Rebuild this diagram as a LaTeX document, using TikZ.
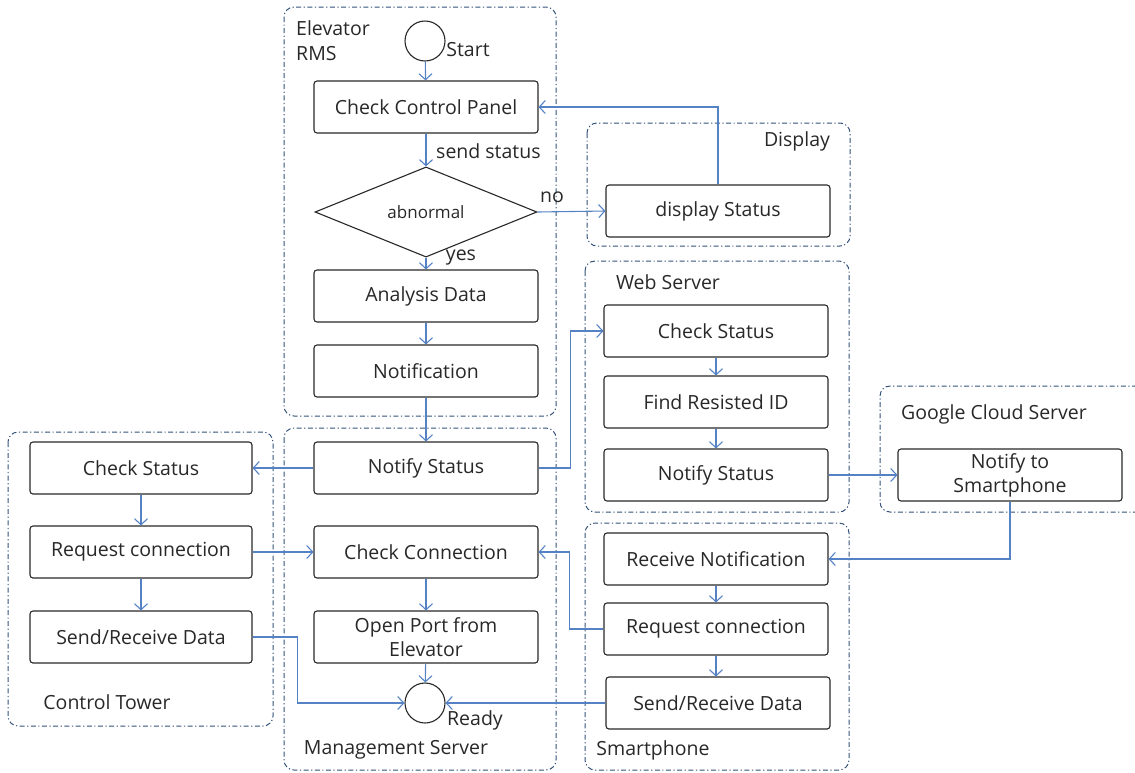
\documentclass[tikz,border=0pt]{standalone}
\usepackage{fontspec}
\setmainfont{Open Sans}
\usetikzlibrary{arrows.meta,shapes.geometric}
\definecolor{flow}{RGB}{84,130,196}
\definecolor{lanec}{RGB}{52,82,122}
\definecolor{ink}{RGB}{40,40,40}
\tikzset{
  box/.style={draw=ink, line width=1.1pt, rounded corners=3pt, fill=white,
    minimum width=224pt, minimum height=52pt, inner sep=2pt, align=center,
    font=\fontsize{19.5}{24}\selectfont, text=ink},
  term/.style={draw=ink, line width=1.1pt, circle, minimum size=40pt, inner sep=0pt},
  lbl/.style={font=\fontsize{19.5}{24}\selectfont, text=ink, inner sep=0pt},
  lane/.style={draw=lanec, line width=1pt, rounded corners=10pt,
    dash pattern=on 5pt off 2.5pt on 1.2pt off 2.5pt},
  arr/.style={draw=flow, line width=1.1pt, -{Straight Barb[length=6pt,width=13pt]}},
}
\begin{document}
\begin{tikzpicture}[x=1pt,y=-1pt]
\useasboundingbox (0,0) rectangle (1135,772);

% swimlanes
\draw[lane] (284,7) rectangle (556,416);
\draw[lane] (587,123) rectangle (850,246);
\draw[lane] (585,261) rectangle (849,512);
\draw[lane] (1137,386) -- (880,386) -- (880,512) -- (1137,512);
\draw[lane] (8,432) rectangle (273,726);
\draw[lane] (284,428) rectangle (556,770);
\draw[lane] (585,523) rectangle (849,770);

% lane titles
\node[lbl, anchor=north west, align=left] (tRMS) at (296,20) {Elevator\\[1pt]RMS};
\node[lbl] (tDisp) at (797,141) {Display};
\node[lbl] (tWeb) at (668,282) {Web Server};
\node[lbl] (tGoogle) at (994,414) {Google Cloud Server};
\node[lbl] (tCT) at (107,702) {Control Tower};
\node[lbl] (tMS) at (396,750) {Management Server};
\node[lbl] (tSP) at (653,750) {Smartphone};

% Elevator RMS
\node[term] (start) at (425,41) {};
\node[lbl] (startL) at (468,50) {Start};
\node[box] (ccp) at (426,107) {Check Control Panel};
\node[draw=ink, line width=1.1pt, diamond, fill=white, minimum width=222pt,
      minimum height=72pt, inner sep=0pt, font=\fontsize{17}{20}\selectfont, text=ink]
      (dia) at (426,212) {abnormal};
\node[box] (ana) at (426,296) {Analysis Data};
\node[box] (notif) at (426,371) {Notification};

% Display
\node[box] (disp) at (718,211) {display Status};

% Web Server
\node[box] (wcheck) at (716,331) {Check Status};
\node[box] (wfind) at (716,402) {Find Resisted ID};
\node[box] (wnotify) at (716,475) {Notify Status};

% Google Cloud Server
\node[box] (gnotify) at (1010,475) {Notify to\\Smartphone};

% Control Tower
\node[box, minimum width=222pt] (ctcheck) at (141,468) {Check Status};
\node[box, minimum width=222pt] (ctreq) at (141,552) {Request connection};
\node[box, minimum width=222pt] (ctsend) at (141,637) {Send/Receive Data};

% Management Server
\node[box] (mnotify) at (426,468) {Notify Status};
\node[box] (mcheck) at (426,552) {Check Connection};
\node[box] (mopen) at (426,637) {Open Port from\\Elevator};
\node[term] (ready) at (425,703) {};
\node[lbl] (readyL) at (475,720) {Ready};

% Smartphone
\node[box] (srecv) at (716,559) {Receive Notification};
\node[box] (sreq) at (716,629) {Request connection};
\node[box] (ssend) at (718,703) {Send/Receive Data};

% edge labels
\node[lbl, anchor=west] (lsend) at (436,151) {send status};
\node[lbl] (lno) at (552,197) {no};
\node[lbl] (lyes) at (461,258) {yes};

% flow
\draw[arr] (start) -- (ccp);
\draw[arr] (ccp) -- (dia);
\draw[arr] (dia) -- (ana);
\draw[arr] (dia.east) -- (disp.west);
\draw[arr] (disp.north) |- (ccp.east);
\draw[arr] (ana) -- (notif);
\draw[arr] (notif) -- (mnotify);
\draw[arr] (mnotify.west) -- (ctcheck.east);
\draw[arr] (mnotify.east) -- ++(32,0) |- (wcheck.west);
\draw[arr] (wcheck) -- (wfind);
\draw[arr] (wfind) -- (wnotify);
\draw[arr] (wnotify.east) -- (gnotify.west);
\draw[arr] (gnotify.south) |- (srecv.east);
\draw[arr] (srecv) -- (sreq);
\draw[arr] (sreq.south) -- (sreq.south |- ssend.north);
\draw[arr] (sreq.west) -- ++(-34,0) |- (mcheck.east);
\draw[arr] (ctcheck) -- (ctreq);
\draw[arr] (ctreq) -- (ctsend);
\draw[arr] (ctreq.east) -- (mcheck.west);
\draw[arr] (mcheck) -- (mopen);
\draw[arr] (mopen) -- (ready);
\draw[arr] (ctsend.east) -- ++(45,0) |- (ready.west);
\draw[arr] (ssend.west) -- (ready.east);
\end{tikzpicture}
\end{document}
